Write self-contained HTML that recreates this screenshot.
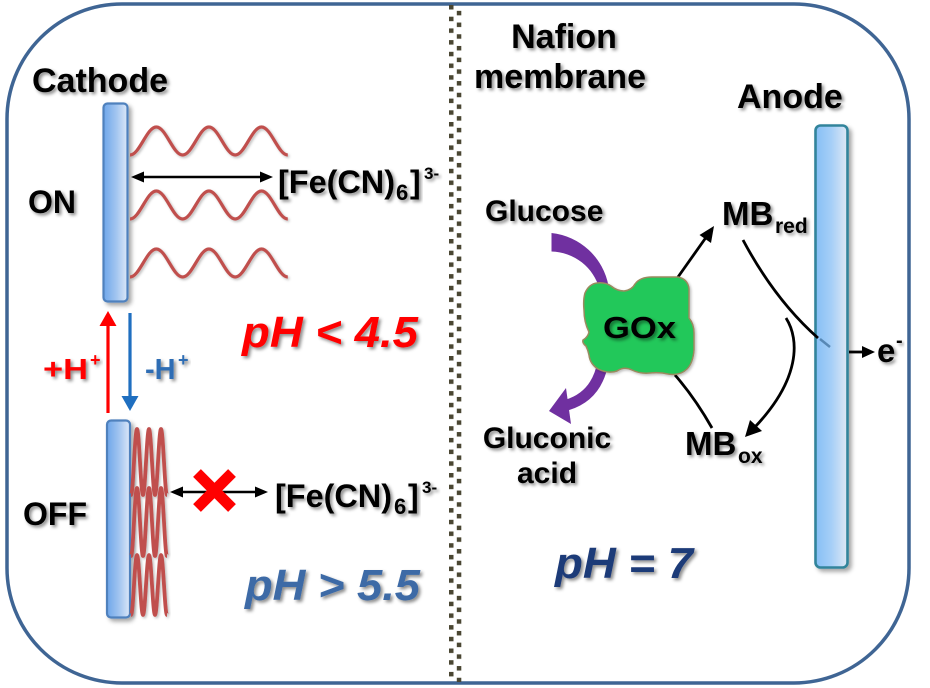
<!DOCTYPE html>
<html>
<head>
<meta charset="utf-8">
<style>
html,body{margin:0;padding:0;background:#fff;}
svg{display:block;}
text{font-family:"Liberation Sans",Arial,sans-serif;font-weight:bold;}
</style>
</head>
<body>
<svg width="930" height="688" viewBox="0 0 930 688" xmlns="http://www.w3.org/2000/svg">
<defs>
  <filter id="ts" x="-20%" y="-30%" width="140%" height="160%">
    <feDropShadow dx="2.2" dy="2.2" stdDeviation="1.5" flood-color="#000" flood-opacity="0.45"/>
  </filter>
  <filter id="sh" x="-50%" y="-10%" width="200%" height="120%">
    <feDropShadow dx="3" dy="3" stdDeviation="2" flood-color="#000" flood-opacity="0.35"/>
  </filter>
  <filter id="ws" x="-10%" y="-20%" width="120%" height="140%">
    <feDropShadow dx="1.5" dy="1.5" stdDeviation="1.2" flood-color="#000" flood-opacity="0.25"/>
  </filter>
  <linearGradient id="cat" x1="0" y1="0" x2="1" y2="0">
    <stop offset="0" stop-color="#6ea6ea"/>
    <stop offset="0.55" stop-color="#a4c6f0"/>
    <stop offset="1" stop-color="#dde8f8"/>
  </linearGradient>
  <linearGradient id="ano" x1="0" y1="0" x2="1" y2="0">
    <stop offset="0" stop-color="#86bff6"/>
    <stop offset="0.5" stop-color="#a6cff7"/>
    <stop offset="1" stop-color="#dfe8f4"/>
  </linearGradient>
  <pattern id="dots" x="449" y="5" width="14" height="11.7" patternUnits="userSpaceOnUse">
    <rect x="0" y="0" width="4.5" height="4.5" fill="#4a4632"/>
    <rect x="7.8" y="5.85" width="4.5" height="4.5" fill="#4a4632"/>
  </pattern>
</defs>

<!-- outer frame -->
<rect x="7" y="4" width="902" height="679" rx="115" ry="115" fill="#fff" stroke="#3f6594" stroke-width="3.5"/>

<!-- divider -->
<rect x="449" y="5" width="14" height="677" fill="url(#dots)"/>

<!-- ===== LEFT PANEL ===== -->
<text x="32" y="92" font-size="34" textLength="136" lengthAdjust="spacingAndGlyphs" filter="url(#ts)">Cathode</text>
<text x="28" y="213" font-size="32" filter="url(#ts)">ON</text>
<text x="23" y="525" font-size="32" filter="url(#ts)">OFF</text>

<!-- ON electrode -->
<rect x="103.5" y="103.5" width="24" height="198" rx="4" fill="url(#cat)" stroke="#4f81bd" stroke-width="2.2" filter="url(#sh)"/>

<!-- ON waves -->
<g fill="none" stroke="#c0504d" stroke-width="3.2" filter="url(#ws)">
  <path d="M130,155 C139.6,155 146.7,127 156.3,127 C165.9,127 173,155 182.6,155 C192.2,155 199.3,127 208.9,127 C218.5,127 225.6,155 235.2,155 C244.8,155 251.9,127 261.5,127 C271.1,127 278.2,155 287.8,155"/>
  <path d="M130,219 C139.6,219 146.7,191 156.3,191 C165.9,191 173,219 182.6,219 C192.2,219 199.3,191 208.9,191 C218.5,191 225.6,219 235.2,219 C244.8,219 251.9,191 261.5,191 C271.1,191 278.2,219 287.8,219"/>
  <path d="M130,277 C139.6,277 146.7,249 156.3,249 C165.9,249 173,277 182.6,277 C192.2,277 199.3,249 208.9,249 C218.5,249 225.6,277 235.2,277 C244.8,277 251.9,249 261.5,249 C271.1,249 278.2,277 287.8,277"/>
</g>

<!-- ON double arrow -->
<line x1="141" y1="177" x2="262" y2="177" stroke="#000" stroke-width="2.6"/>
<polygon points="131,177 144,171.5 144,182.5" fill="#000"/>
<polygon points="273,177 260,171.5 260,182.5" fill="#000"/>

<text x="278" y="193" font-size="32" textLength="117" lengthAdjust="spacingAndGlyphs" filter="url(#ts)">[Fe(CN)</text>
<text x="396" y="200" font-size="22" filter="url(#ts)">6</text>
<text x="410" y="193" font-size="32" filter="url(#ts)">]</text>
<text x="424" y="179" font-size="17" filter="url(#ts)">3-</text>

<!-- H+ arrows -->
<line x1="108" y1="413" x2="108" y2="324" stroke="#ff0000" stroke-width="3.2"/>
<polygon points="108,311 99.5,326 116.5,326" fill="#ff0000"/>
<line x1="130" y1="313" x2="130" y2="398" stroke="#1f6fc0" stroke-width="3.2"/>
<polygon points="130,411 121.5,396 138.5,396" fill="#1f6fc0"/>

<text x="43" y="379" font-size="29" fill="#ff0000" textLength="45" lengthAdjust="spacingAndGlyphs" filter="url(#ts)">+H</text>
<text x="90" y="366" font-size="18" fill="#ff0000" filter="url(#ts)">+</text>
<text x="145" y="379" font-size="29" fill="#2e6db4" filter="url(#ts)">-H</text>
<text x="178" y="366" font-size="18" fill="#2e6db4" filter="url(#ts)">+</text>

<text x="242" y="347" font-size="44" font-style="italic" fill="#ff0000" textLength="176" lengthAdjust="spacingAndGlyphs" filter="url(#ts)">pH &lt; 4.5</text>

<!-- OFF electrode -->
<rect x="107" y="420.5" width="23" height="197" rx="4" fill="url(#cat)" stroke="#4f81bd" stroke-width="2.2" filter="url(#sh)"/>

<!-- OFF compressed waves -->
<g fill="none" stroke="#c0504d" stroke-width="3.8" filter="url(#ws)">
  <path d="M131,495 C133.2,495 134.8,429 137,429 C139.2,429 140.8,495 143,495 C145.2,495 146.8,429 149,429 C151.2,429 152.8,495 155,495 C157.2,495 158.8,429 161,429 C163.2,429 164.8,495 167,495"/>
  <path d="M131,556 C133.2,556 134.8,488 137,488 C139.2,488 140.8,556 143,556 C145.2,556 146.8,488 149,488 C151.2,488 152.8,556 155,556 C157.2,556 158.8,488 161,488 C163.2,488 164.8,556 167,556"/>
  <path d="M131,615 C133.2,615 134.8,555 137,555 C139.2,555 140.8,615 143,615 C145.2,615 146.8,555 149,555 C151.2,555 152.8,615 155,615 C157.2,615 158.8,555 161,555 C163.2,555 164.8,615 167,615"/>
</g>

<!-- OFF double arrow -->
<line x1="180" y1="492" x2="257" y2="492" stroke="#000" stroke-width="2.6"/>
<polygon points="170,492 183,486.5 183,497.5" fill="#000"/>
<polygon points="268,492 255,486.5 255,497.5" fill="#000"/>
<!-- red X -->
<g stroke="#ff0000" stroke-width="11" stroke-linecap="butt">
  <line x1="197" y1="473" x2="232" y2="508"/>
  <line x1="232" y1="473" x2="197" y2="508"/>
</g>

<text x="275" y="507" font-size="32" textLength="117" lengthAdjust="spacingAndGlyphs" filter="url(#ts)">[Fe(CN)</text>
<text x="394" y="514" font-size="22" filter="url(#ts)">6</text>
<text x="408" y="507" font-size="32" filter="url(#ts)">]</text>
<text x="422" y="493" font-size="17" filter="url(#ts)">3-</text>

<text x="245" y="600" font-size="44" font-style="italic" fill="#3c6aa6" textLength="175" lengthAdjust="spacingAndGlyphs" filter="url(#ts)">pH &gt; 5.5</text>

<!-- ===== RIGHT PANEL ===== -->
<text x="564" y="48" font-size="34" text-anchor="middle" filter="url(#ts)">Nafion</text>
<text x="560" y="88" font-size="34" text-anchor="middle" filter="url(#ts)">membrane</text>
<text x="737" y="108" font-size="34" filter="url(#ts)">Anode</text>

<!-- Anode electrode -->
<rect x="815.5" y="125.5" width="32" height="442" rx="5" fill="url(#ano)" stroke="#31849b" stroke-width="2.6" filter="url(#sh)"/>

<text x="485" y="221" font-size="30" filter="url(#ts)">Glucose</text>
<text x="722" y="225" font-size="33" filter="url(#ts)">MB</text>
<text x="775" y="233" font-size="21" filter="url(#ts)">red</text>

<!-- glucose purple band -->
<path d="M551.5,233 A65,65 0 0 1 608.5,286 L599.5,289 A51,51 0 0 0 551.5,251.5 Z" fill="#7030a0"/>
<!-- gluconic purple arrow -->
<path d="M603,362 Q597,396 567,405" fill="none" stroke="#7030a0" stroke-width="11"/>
<polygon points="549,411 566,388 571,424" fill="#7030a0"/>

<!-- arrows around GOx -->
<line x1="678" y1="277" x2="707" y2="236" stroke="#000" stroke-width="2.8"/>
<polygon points="714,226 699.5,235 711,243" fill="#000"/>
<path d="M675,375 Q695,398 712,428" fill="none" stroke="#000" stroke-width="2.8"/>

<path d="M743,240 Q775,300 818,338" fill="none" stroke="#000" stroke-width="2.8"/>
<line x1="820" y1="339" x2="830" y2="347" stroke="#3d6e9a" stroke-width="2.5" opacity="0.7"/>
<path d="M786,318 C800,340 800,380 754,428" fill="none" stroke="#000" stroke-width="2.8"/>
<polygon points="745,437 750,420 762,431" fill="#000"/>

<!-- GOx blob -->
<path d="M585,293 Q589,284 597,283 Q605,282 611,286 Q617,291 624,291 Q632,290 635,284 Q640,277 652,277 L678,277 Q688,279 689,289 L689,318 Q694,324 694,333 L694,350 Q693,363 687,369 Q680,376 668,374 Q660,372 650,373 Q640,374 632,370 Q624,366 617,371 Q608,374 598,369 Q590,364 589,355 Q588,350 586,346 Q582,343 583,340 Q588,337 589,332 Q584,322 584,310 Q583,300 585,293 Z" fill="#22c85a" stroke="#9a8a5e" stroke-width="1.5" filter="url(#ws)"/>
<text x="603" y="338" font-size="31" textLength="73" lengthAdjust="spacingAndGlyphs" filter="url(#ts)">GOx</text>

<text x="547" y="448" font-size="30" text-anchor="middle" filter="url(#ts)">Gluconic</text>
<text x="547" y="483" font-size="30" text-anchor="middle" filter="url(#ts)">acid</text>

<text x="685" y="455" font-size="33" filter="url(#ts)">MB</text>
<text x="738" y="463" font-size="21" filter="url(#ts)">ox</text>

<!-- e- -->
<line x1="849" y1="352" x2="864" y2="352" stroke="#000" stroke-width="2.8"/>
<polygon points="875,352 862,346 862,358" fill="#000"/>
<text x="877" y="362" font-size="33" filter="url(#ts)">e</text>
<text x="896" y="347" font-size="20" filter="url(#ts)">-</text>

<text x="555" y="578" font-size="44" font-style="italic" fill="#1f3a78" textLength="138" lengthAdjust="spacingAndGlyphs" filter="url(#ts)">pH = 7</text>
</svg>
</body>
</html>
